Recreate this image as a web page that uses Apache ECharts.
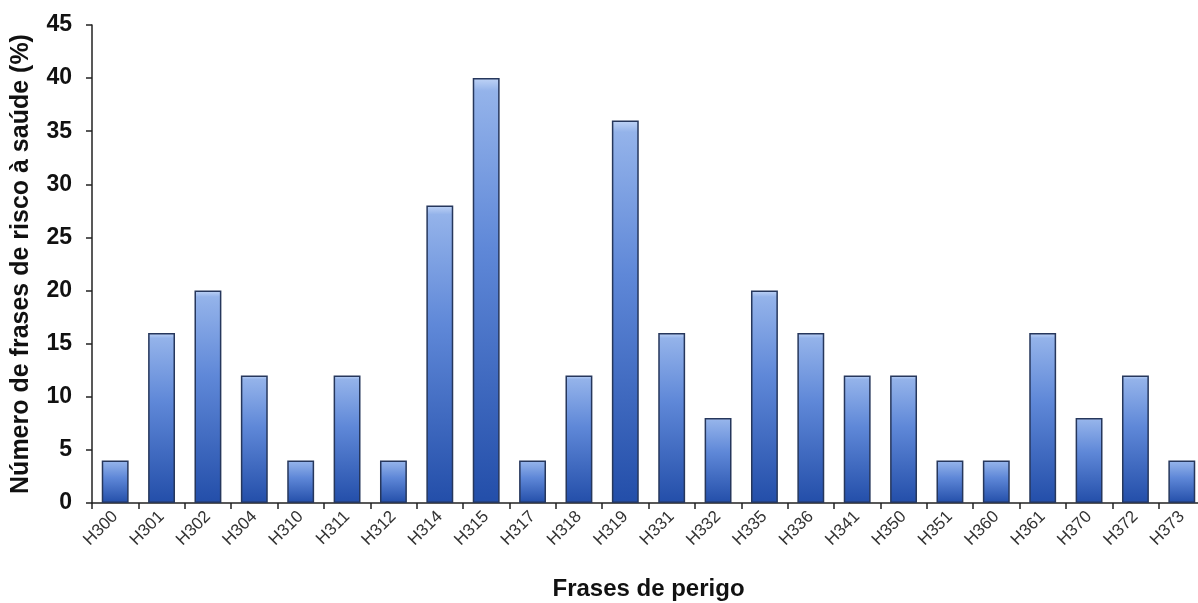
<!DOCTYPE html>
<html>
<head>
<meta charset="utf-8">
<script src="https://cdn.jsdelivr.net/npm/echarts@6/dist/echarts.min.js"></script>
<style>
  html, body { margin: 0; padding: 0; background: #fff; }
  #chart { width: 1198px; height: 603px; }
</style>
</head>
<body>
<div id="chart"></div>
<script>
// Hazard statements (H-codes) and share of health-risk phrases (%)
const categories = ['H300','H301','H302','H304','H310','H311','H312','H314','H315','H317','H318','H319',
                    'H331','H332','H335','H336','H341','H350','H351','H360','H361','H370','H372','H373'];
const values = [4,16,20,12,4,12,4,28,40,4,12,36,16,8,20,16,12,12,4,4,16,8,12,4];

const yTickMin = 0;
const yTickMax = 45;
const yTickStep = 5;

const chart = echarts.init(document.getElementById('chart'));

const barFill = new echarts.graphic.LinearGradient(0, 0, 0, 1, [
  { offset: 0, color: '#c0d4f6' },
  { offset: 0.03, color: '#94b3ea' },
  { offset: 0.4, color: '#5f88d8' },
  { offset: 1, color: '#234ea9' }
]);

chart.setOption({
  animation: false,
  grid: { left: 92, right: -7, top: 25, bottom: 100, containLabel: false, outerBoundsMode: 'none' },
  xAxis: {
    type: 'category',
    data: categories,
    name: 'Frases de perigo',
    nameLocation: 'middle',
    nameGap: 74,
    nameTextStyle: { fontFamily: 'Liberation Sans, Arial, sans-serif', fontWeight: 'bold', fontSize: 24, color: '#111' },
    axisLine: { lineStyle: { color: '#222', width: 1.5 } },
    axisTick: { show: true, length: 6, lineStyle: { color: '#222', width: 1.5 } },
    axisLabel: { rotate: 45, fontFamily: 'Liberation Sans, Arial, sans-serif', fontSize: 17, color: '#333', margin: 11 }
  },
  yAxis: {
    type: 'value',
    min: yTickMin,
    max: yTickMax,
    interval: yTickStep,
    name: 'Número de frases de risco à saúde (%)',
    nameLocation: 'middle',
    nameGap: 58,
    nameTextStyle: { fontFamily: 'Liberation Sans, Arial, sans-serif', fontWeight: 'bold', fontSize: 25, color: '#111' },
    axisLine: { show: true, lineStyle: { color: '#222', width: 1.5 } },
    axisTick: { show: true, length: 6, lineStyle: { color: '#222', width: 1.5 } },
    axisLabel: { fontFamily: 'Liberation Sans, Arial, sans-serif', fontWeight: 'bold', fontSize: 23, color: '#111', margin: 20 },
    splitLine: { show: false }
  },
  series: [{
    type: 'bar',
    data: values,
    barCategoryGap: '42%',
    itemStyle: { color: barFill, borderColor: '#26375c', borderWidth: 1.5 }
  }]
});
</script>
</body>
</html>
